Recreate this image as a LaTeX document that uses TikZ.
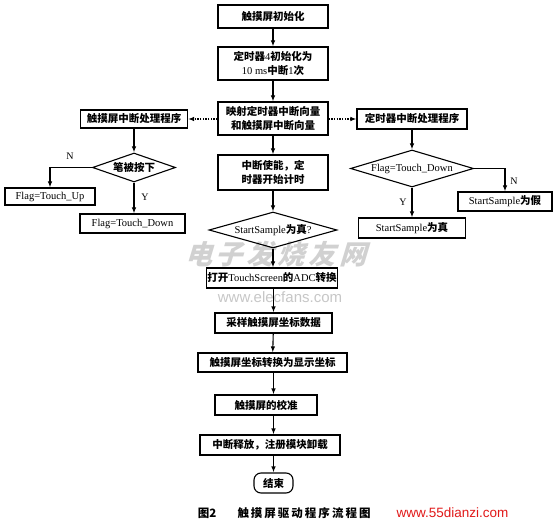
\documentclass[tikz,border=0pt]{standalone}
\usepackage{fontspec}
\setmainfont{Liberation Serif}
\newfontfamily\cjk{Noto Sans CJK SC}
\newfontfamily\cjkslant{Noto Sans CJK SC}[FakeSlant=0.3]
\newfontfamily\urlfont{Liberation Sans}
\usetikzlibrary{arrows.meta,shapes.geometric}
\newcommand\lat[1]{{\rmfamily\mdseries #1}}
\definecolor{urlred}{RGB}{225,25,25}
\tikzset{
  proc/.style 2 args={draw,line width=1.1pt,minimum width=#1,minimum height=#2,inner sep=1pt,align=center},
  dec/.style 2 args={draw,diamond,line width=1.1pt,minimum width=#1,minimum height=#2,inner sep=0pt},
  term/.style 2 args={draw,line width=1.1pt,rounded corners=7pt,minimum width=#1,minimum height=#2,inner sep=1pt},
  flow/.style={line width=1.1pt,-{Latex[length=6pt,width=4.5pt]}},
  dotflow/.style={line width=1.3pt,dash pattern=on 1.3pt off 1.4pt,-{Latex[length=6pt,width=4.5pt]}},
  yn/.style={font=\rmfamily\mdseries\fontsize{10}{12}\selectfont,inner sep=0pt},
  wmark/.style={font=\cjkslant\bfseries\fontsize{27}{30}\selectfont,text=black!18,inner sep=0pt},
}
\begin{document}
\begin{tikzpicture}[x=1pt,y=-1pt,
  every node/.append style={font=\cjk\bfseries\fontsize{10.5}{13.5}\selectfont}]
\fill[white] (0,0) rectangle (553,526);
\useasboundingbox (0,0) rectangle (553,526);

% watermark
\node[wmark] (wm) at (276,254) {电\hspace{4pt}子\hspace{4pt}发\hspace{4pt}烧\hspace{4pt}友\hspace{4pt}网};
\node[font=\urlfont\fontsize{15}{17}\selectfont,text=black!22,inner sep=0pt] (wm2) at (280,297) {www.elecfans.com};

% main column
\node[proc={110}{23}] (b1) at (273,16.5) {触摸屏初始化};
\node[proc={110}{33}] (b2) at (273,63.5) {定时器\lat{4}初始化为\\\lat{10 ms}中断\lat{1}次};
\node[proc={110}{33}] (b3) at (273,118.5) {映射定时器中断向量\\和触摸屏中断向量};
\node[proc={110}{35}] (b4) at (273,172.5) {中断使能，定\\时器开始计时};
\node[dec={128}{36}] (d1) at (273,230) {\makebox[0pt]{\lat{StartSample}为真\lat{?}}};
\node[proc={130}{20}] (b5) at (272,278) {打开\lat{TouchScreen}的\lat{ADC}转换};
\node[proc={117}{20}] (b6) at (273.5,323) {采样触摸屏坐标数据};
\node[proc={149}{19}] (b7) at (272.5,362.5) {触摸屏坐标转换为显示坐标};
\node[proc={102}{20}] (b8) at (266,405) {触摸屏的校准};
\node[proc={140}{20}] (b9) at (270,445) {中断释放，注册模块卸载};
\node[term={39}{20}] (end) at (273.5,483) {结束};

% left branch
\node[proc={107}{18}] (L1) at (134,119) {触摸屏中断处理程序};
\node[dec={83}{29}] (dL) at (134,167.5) {\makebox[0pt]{笔被按下}};
\node[proc={90}{17}] (fu) at (50,196.5) {\lat{Flag=Touch\_Up}};
\node[proc={105}{19}] (fd) at (132.5,223.5) {\lat{Flag=Touch\_Down}};

% right branch
\node[proc={110}{20}] (R1) at (412,119) {定时器中断处理程序};
\node[dec={123}{37}] (dR) at (412,168.5) {\makebox[0pt]{\lat{Flag=Touch\_Down}}};
\node[proc={94}{19}] (sf) at (505,201.5) {\lat{StartSample}为假};
\node[proc={107}{20}] (st) at (412,228) {\lat{StartSample}为真};

% labels
\node[yn] (nL) at (70,156) {N};
\node[yn] (yL) at (145,197) {Y};
\node[yn] (nR) at (514,181) {N};
\node[yn] (yR) at (403,202) {Y};

% caption
\node[font=\cjk\bfseries\fontsize{11.5}{13}\selectfont] (cap1) at (207,513) {图2};
\node[font=\cjk\bfseries\fontsize{11.5}{13}\selectfont] (cap2) at (304,513) {触\hspace{2pt}摸\hspace{2pt}屏\hspace{2pt}驱\hspace{2pt}动\hspace{2pt}程\hspace{2pt}序\hspace{2pt}流\hspace{2pt}程\hspace{2pt}图};
\node[font=\urlfont\fontsize{13.5}{15}\selectfont,text=urlred,inner sep=0pt] (url) at (452.5,513) {www.55dianzi.com};

% main connectors
\draw[flow] (b1) -- (b2);
\draw[flow] (b2) -- (b3);
\draw[flow] (b3) -- (b4);
\draw[flow] (b4) -- (d1);
\draw[flow] (d1.south) -- (d1.south |- b5.north);
\draw[flow] (b5.south -| b6) -- (b6.north);
\draw[flow] (b6) -- (b7);
\draw[flow] (b7.south -| b6) -- (b6 |- b8.north);
\draw[flow] (b8.south -| b6) -- (b6 |- b9.north);
\draw[flow] (b9.south -| end) -- (end.north);

% dotted links
\draw[dotflow] (b3.west |- L1) -- (L1.east);
\draw[dotflow] (b3.east |- R1) -- (R1.west);

% left
\draw[flow] (L1) -- (dL);
\draw[flow] (dL.west) -| (fu.north);
\draw[flow] (dL.south) -- (dL.south |- fd.north);

% right
\draw[flow] (R1) -- (dR);
\draw[flow] (dR.east) -| (sf.north);
\draw[flow] (dR.south) -- (dR.south |- st.north);
\end{tikzpicture}
\end{document}
